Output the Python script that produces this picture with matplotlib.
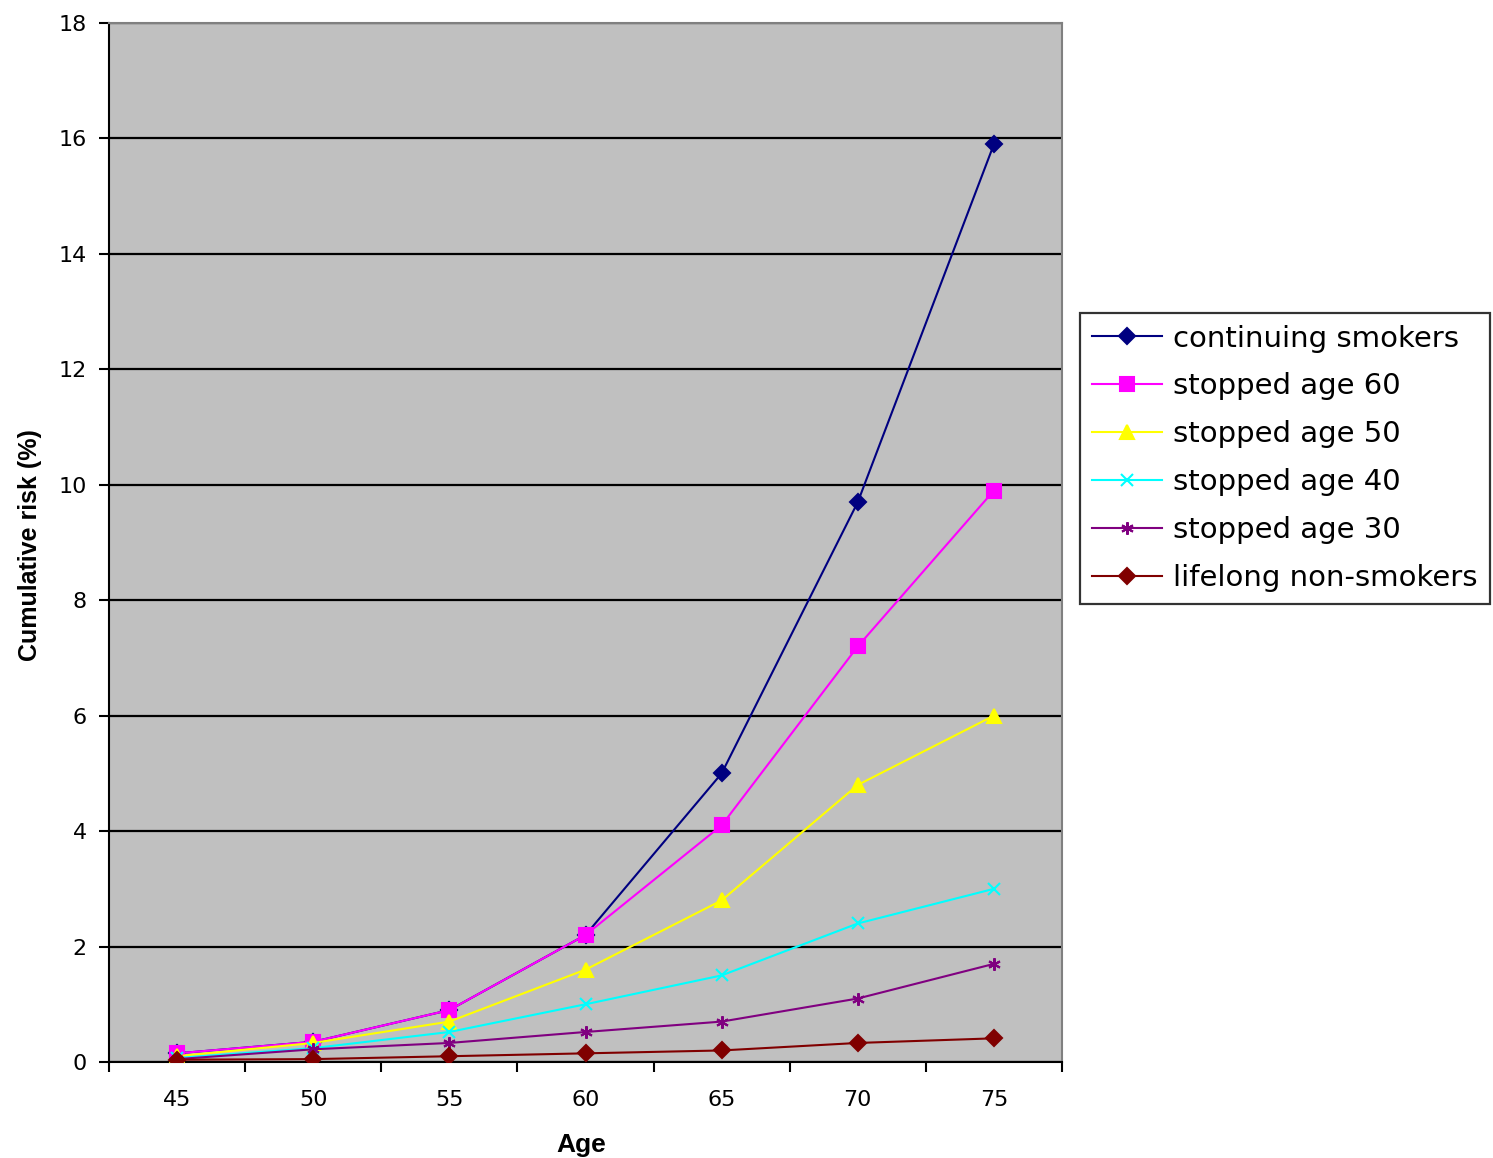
import matplotlib
matplotlib.use('Agg')
import matplotlib.pyplot as plt
import numpy as np

ls_ages = ['45', '50', '55', '60', '65', '70', '75']

# cumulative risk (%)
na_continuing = [0.15, 0.35, 0.9, 2.2, 5.0, 9.7, 15.9]
na_stop60 = [0.15, 0.35, 0.9, 2.2, 4.1, 7.2, 9.9]
na_stop50 = [0.1, 0.33, 0.7, 1.6, 2.8, 4.8, 6.0]
na_stop40 = [0.07, 0.24, 0.52, 1.0, 1.5, 2.4, 3.0]
na_stop30 = [0.05, 0.22, 0.33, 0.52, 0.7, 1.1, 1.7]
na_never = [0.04, 0.05, 0.1, 0.15, 0.2, 0.33, 0.41]

ls_names = ['continuing smokers', 'stopped age 60', 'stopped age 50',
            'stopped age 40', 'stopped age 30', 'lifelong non-smokers']
ls_colors = ['#000080', '#FF00FF', '#FFFF00', '#00FFFF', '#800080', '#800000']
ls_markers = ['D', 's', '^', 'x', (6, 2, 0), 'D']
l_msize = [8, 10, 10, 8, 9, 8]

fig = plt.figure(figsize=(14.93, 11.58), dpi=100)
ax = fig.add_axes([109 / 1493, 1 - 1062 / 1158, 953 / 1493, 1039 / 1158])
ax.set_facecolor('#C0C0C0')

x = np.arange(len(ls_ages))
l_series = [na_continuing, na_stop60, na_stop50, na_stop40, na_stop30, na_never]
for i, na_vals in enumerate(l_series):
    ax.plot(x, na_vals, color=ls_colors[i], lw=1.5, marker=ls_markers[i],
            markersize=l_msize[i], markerfacecolor=ls_colors[i],
            markeredgecolor=ls_colors[i], markeredgewidth=1.5,
            label=ls_names[i], zorder=3 + i)

ax.set_xlim(-0.5, len(ls_ages) - 0.5)
ax.set_ylim(0, 18)
ax.set_yticks(np.arange(0, 19, 2))
ax.yaxis.grid(True, color='black', lw=1.6)
ax.set_axisbelow(True)

ax.set_xticks(x)
ax.set_xticklabels(ls_ages)
ax.set_xticks(np.arange(-0.5, len(ls_ages), 1.0), minor=True)
ax.tick_params(axis='x', which='major', length=0, pad=20, labelsize=16)
ax.tick_params(axis='x', which='minor', length=7, width=1.5, direction='out')
ax.tick_params(axis='y', length=7, width=1.5, direction='out', pad=9, labelsize=16)

for s in ['top', 'right']:
    ax.spines[s].set_color('#808080')
    ax.spines[s].set_linewidth(1.5)
for s in ['left', 'bottom']:
    ax.spines[s].set_color('black')
    ax.spines[s].set_linewidth(1.5)

fig.text(30 / 1493, 1 - 545 / 1158, 'Cumulative risk (%)', rotation=90,
         ha='center', va='center', fontsize=18, fontweight='bold',
         family='Liberation Sans')
fig.text(581 / 1493, 1 - 1145 / 1158, 'Age', ha='center', va='center',
         fontsize=19, fontweight='bold', family='Liberation Sans')

leg = fig.legend(loc='upper left', bbox_to_anchor=(1080 / 1493, 1 - 313 / 1158),
                 fontsize=21, frameon=True, fancybox=False, borderpad=0.4,
                 labelspacing=0.68, handlelength=2.4, handletextpad=0.4,
                 borderaxespad=0)
leg.get_frame().set_edgecolor('black')
leg.get_frame().set_linewidth(1.6)

plt.savefig('out.png', dpi=100)
